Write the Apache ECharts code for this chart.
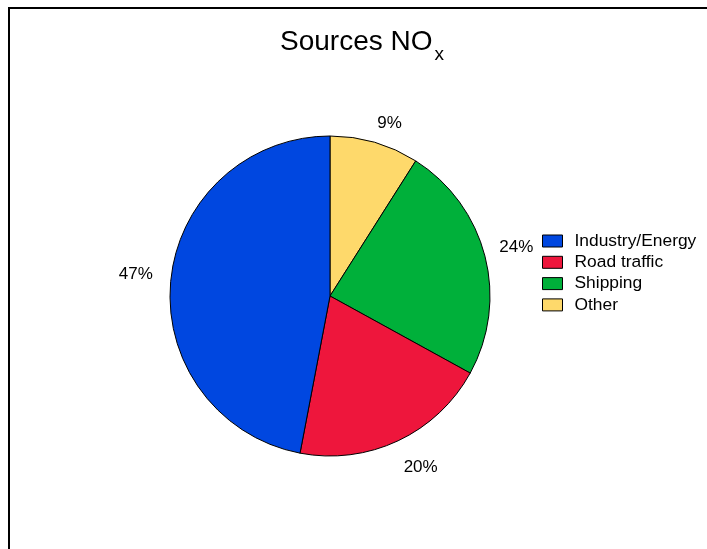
<!DOCTYPE html>
<html>
<head>
<meta charset="utf-8">
<script src="https://cdn.jsdelivr.net/npm/echarts@6/dist/echarts.min.js"></script>
<style>
  html, body { margin: 0; padding: 0; background: #fff; }
  #chart { width: 707px; height: 549px; }
</style>
</head>
<body>
<div id="chart"></div>
<script>
// NOx emission shares by source (%), in drawing order clockwise from 12 o'clock
const sources = ['Other', 'Shipping', 'Road traffic', 'Industry/Energy'];
const shares = [9, 24, 20, 47];
const sliceColors = ['#fed96b', '#00b03a', '#ee163c', '#0047e0'];
// legend reads top-down in this order
const legendOrder = ['Industry/Energy', 'Road traffic', 'Shipping', 'Other'];
// small per-label nudges [dx, dy] applied after the pie's own label layout
const labelNudge = [[-3, 0], [-5, -4], [-3, 8], [2, -5]];

const FONT = '"Liberation Sans", Arial, Helvetica, sans-serif';

const chart = echarts.init(document.getElementById('chart'), null, { renderer: 'canvas' });

chart.setOption({
  animation: false,
  backgroundColor: '#ffffff',
  title: {
    text: '{main|Sources NO}{sub|x}',
    left: 280,
    top: 20,
    padding: 0,
    textStyle: {
      fontFamily: FONT,
      fontWeight: 'normal',
      rich: {
        main: { fontFamily: FONT, fontWeight: 'normal', fontSize: 28, color: '#000', lineHeight: 44 },
        sub: { fontFamily: FONT, fontWeight: 'normal', fontSize: 19, color: '#000', lineHeight: 15, verticalAlign: 'bottom', padding: [0, 0, 0, 2] }
      }
    }
  },
  legend: {
    orient: 'vertical',
    left: 542,
    top: 232.5,
    padding: 0,
    itemWidth: 20,
    itemHeight: 12,
    itemGap: 4.3,
    icon: 'rect',
    data: legendOrder,
    itemStyle: { borderColor: '#000', borderWidth: 1 },
    textStyle: { fontFamily: FONT, fontSize: 17.4, color: '#000', padding: [0, 0, 0, 7] }
  },
  graphic: [{
    type: 'rect',
    silent: true,
    shape: { x: 9, y: 8, width: 800, height: 700 },
    style: { fill: 'none', stroke: '#000', lineWidth: 2 }
  }],
  series: [{
    type: 'pie',
    center: [330, 296],
    radius: 160,
    startAngle: 90,
    clockwise: true,
    avoidLabelOverlap: false,
    itemStyle: { borderColor: '#000', borderWidth: 1 },
    label: {
      show: true,
      position: 'outside',
      formatter: '{c}%',
      fontFamily: FONT,
      fontSize: 17,
      color: '#000',
      distanceToLabelLine: 0
    },
    labelLine: { show: false, length: 20, length2: 0 },
    labelLayout: function (params) {
      const n = labelNudge[params.dataIndex] || [0, 0];
      return { dx: n[0], dy: n[1] };
    },
    emphasis: { disabled: true },
    data: sources.map((name, i) => ({
      name: name,
      value: shares[i],
      itemStyle: { color: sliceColors[i] }
    }))
  }]
});
</script>
</body>
</html>
